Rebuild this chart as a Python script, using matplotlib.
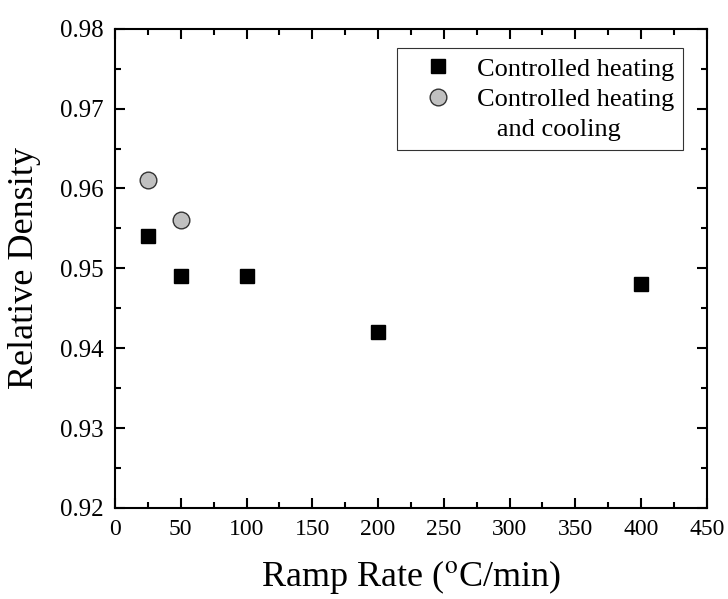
import numpy as np
import matplotlib
matplotlib.use("Agg")
import matplotlib.pyplot as plt
from matplotlib.ticker import MultipleLocator
from matplotlib.lines import Line2D

plt.rcParams['font.family'] = ['Liberation Serif', 'DejaVu Serif']
plt.rcParams['mathtext.fontset'] = 'stix'

# data
heat_rate = [25, 50, 100, 200, 400]
heat_density = [0.954, 0.949, 0.949, 0.942, 0.948]
cool_rate = [25, 50]
cool_density = [0.961, 0.956]

fig = plt.figure(figsize=(7.28, 5.99), dpi=100)
ax = fig.add_axes([0.158, 0.152, 0.813, 0.800])

h1, = ax.plot(heat_rate, heat_density, 's', color='black', markersize=10,
              linestyle='none', label='Controlled heating')
h2, = ax.plot(cool_rate, cool_density, 'o', markerfacecolor='#c0c0c0',
              markeredgecolor='#333333', markeredgewidth=1, markersize=12,
              linestyle='none', label='Controlled heating')
blank = Line2D([], [], linestyle='none', marker='')

ax.set_xlim(0, 450)
ax.set_ylim(0.92, 0.98)
ax.xaxis.set_major_locator(MultipleLocator(50))
ax.xaxis.set_minor_locator(MultipleLocator(25))
ax.yaxis.set_major_locator(MultipleLocator(0.01))
ax.yaxis.set_minor_locator(MultipleLocator(0.005))
ax.yaxis.set_major_formatter(plt.FormatStrFormatter('%.2f'))

ax.tick_params(which='both', direction='in', top=True, right=True, width=1.5)
ax.tick_params(axis='x', labelsize=17, pad=8)
ax.tick_params(axis='y', labelsize=18, pad=8)
ax.tick_params(which='major', length=7)
ax.tick_params(which='minor', length=4)
for s in ax.spines.values():
    s.set_linewidth(1.5)

ax.set_xlabel('Ramp Rate ($^{\\rm o}$C/min)', fontsize=26, labelpad=13)
ax.set_ylabel('Relative Density', fontsize=26, labelpad=14)

leg = ax.legend([h1, h2, blank],
                ['Controlled heating', 'Controlled heating', '   and cooling'],
                loc='upper right', bbox_to_anchor=(683 / 728, 1 - 48 / 599),
                bbox_transform=fig.transFigure, borderaxespad=0,
                fontsize=19, frameon=True, fancybox=False, edgecolor='black',
                handlelength=2.4, handletextpad=0.25, labelspacing=0.25,
                borderpad=0.35)
leg.get_frame().set_linewidth(0.8)

fig.savefig('out.png', dpi=100)
